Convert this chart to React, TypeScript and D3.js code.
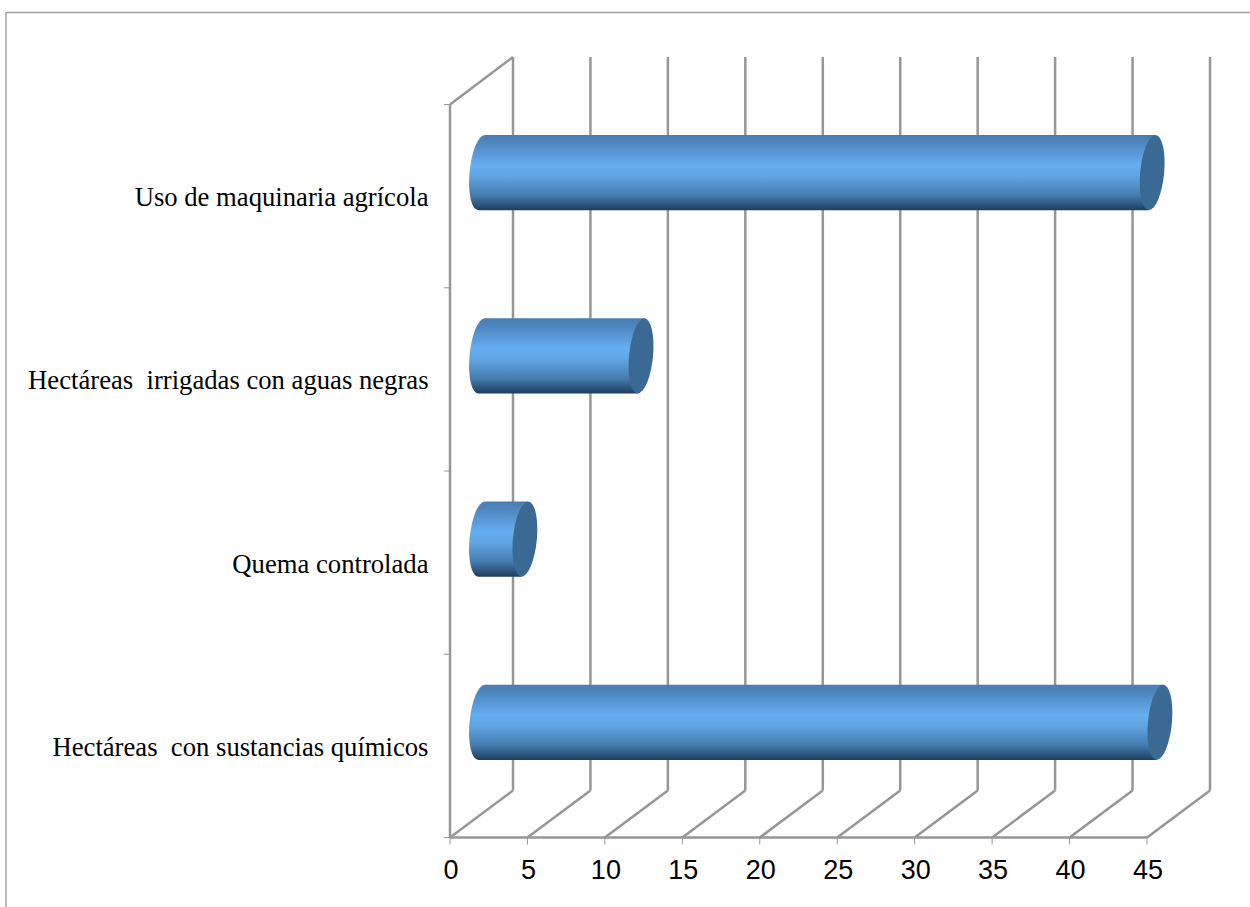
import React from "react";
import * as d3 from "d3";

const categories = [
  "Uso de maquinaria agrícola",
  "Hectáreas  irrigadas con aguas negras",
  "Quema controlada",
  "Hectáreas  con sustancias químicos",
];
const values = [43.3, 10.3, 2.8, 43.8];
const xTicks = [0, 5, 10, 15, 20, 25, 30, 35, 40, 45];

const W = 1250, H = 907;
const x0 = 450, x45 = 1147, yTop = 104.5, yBot = 837.5;
const dx = 63, dy = -47;
const backTop = 57;
const RX = 12;
const GRAY = "#969696";
const LW = 2.5;

export default function App() {
  const x = d3.scaleLinear().domain([0, 45]).range([x0, x45]);
  const y = d3.scaleBand<string>().domain(categories).range([yTop, yBot]).paddingInner(0.59).paddingOuter(0.295);
  const len = (v: number) => x(v) - x(0);
  const cylinder = (v: number, c: string) => {
    const h = y.bandwidth();
    const cy = y(c)! + dy / 2 + h / 2;
    const cx = x0 + dx / 2;
    const length = len(v);
    const ry = h / 2;
    const p = d3.path();
    p.moveTo(0, -ry);
    p.lineTo(length, -ry);
    p.lineTo(length, ry);
    p.lineTo(0, ry);
    const body = `${p.toString()} A${RX},${ry} 0 0 1 0,${-ry} Z`;
    return { cx, cy, length, ry, body };
  };

  return (
    <svg width={W} height={H} viewBox={`0 0 ${W} ${H}`} style={{ position: "absolute", left: 0, top: 0, background: "#fff" }}>
      <defs>
        <linearGradient id="cyl" x1="0" y1="0" x2="0" y2="1">
          <stop offset="0" stopColor="#4a7db2" />
          <stop offset="0.12" stopColor="#5088c2" />
          <stop offset="0.4" stopColor="#65aef0" />
          <stop offset="0.55" stopColor="#5fa4e2" />
          <stop offset="0.8" stopColor="#457daf" />
          <stop offset="1" stopColor="#1e3d5e" />
        </linearGradient>
      </defs>
      <path d={`M6,${H}V12.5H${W}`} fill="none" stroke="#a0a0a0" strokeWidth={1.5} />

      {xTicks.map((t) => (
        <line key={`back-${t}`} x1={x(t) + dx} x2={x(t) + dx} y1={backTop} y2={yBot + dy} stroke={GRAY} strokeWidth={LW} />
      ))}
      {xTicks.map((t) => (
        <line key={`floor-${t}`} x1={x(t)} y1={yBot} x2={x(t) + dx} y2={yBot + dy} stroke={GRAY} strokeWidth={LW} />
      ))}
      <line x1={x0} y1={yTop} x2={x0 + dx} y2={backTop} stroke={GRAY} strokeWidth={LW} />
      <line x1={x0} x2={x0} y1={yTop} y2={yBot} stroke={GRAY} strokeWidth={LW} />
      <line x1={x0} x2={x45} y1={yBot} y2={yBot} stroke={GRAY} strokeWidth={LW} />
      {d3.range(categories.length + 1).map((i) => {
        const yy = yTop + (i * (yBot - yTop)) / categories.length;
        return <line key={i} x1={x0 - 6} x2={x0} y1={yy} y2={yy} stroke={GRAY} strokeWidth={1} />;
      })}
      {xTicks.map((t) => (
        <line key={`tick-${t}`} x1={x(t)} x2={x(t)} y1={yBot} y2={yBot + 7} stroke={GRAY} strokeWidth={1} />
      ))}

      {categories.map((c, i) => {
        const g = cylinder(values[i], c);
        return (
          <g key={c} transform={`translate(${g.cx},${g.cy}) skewX(-5)`}>
            <path d={g.body} fill="url(#cyl)" />
            <ellipse cx={g.length} cy={0} rx={RX} ry={g.ry} fill="#3a6a94" />
          </g>
        );
      })}

      {categories.map((c) => (
        <text
          key={c}
          x={428.5}
          y={y(c)! + y.bandwidth() / 2 + 10}
          textAnchor="end"
          fontFamily="'Liberation Serif', serif"
          fontSize={26.67}
          fill="#000"
          style={{ whiteSpace: "pre" }}
        >
          {c}
        </text>
      ))}
      {xTicks.map((t) => (
        <text key={`lab-${t}`} x={x(t) + 1} y={879} textAnchor="middle" fontFamily="'Liberation Sans', sans-serif" fontSize={27} fill="#000">
          {t}
        </text>
      ))}
    </svg>
  );
}
